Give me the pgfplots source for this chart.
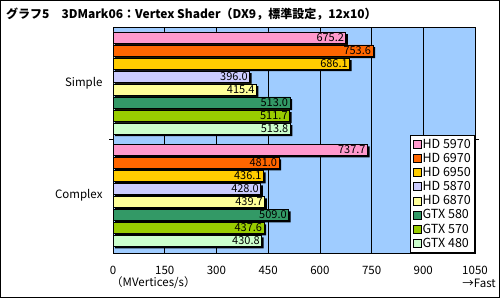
\documentclass[border=0pt]{standalone}
\usepackage{fontspec}
\setmainfont{Noto Sans CJK JP}
\usepackage{pgfplots}
\pgfplotsset{compat=1.18}
\definecolor{bg}{HTML}{9FCCFF}
\definecolor{cA}{HTML}{FF99CC}
\definecolor{cB}{HTML}{FF6600}
\definecolor{cC}{HTML}{FFCC00}
\definecolor{cD}{HTML}{CCCCFF}
\definecolor{cE}{HTML}{FFFF99}
\definecolor{cF}{HTML}{339966}
\definecolor{cG}{HTML}{99CC00}
\definecolor{cH}{HTML}{CCFFCC}
\newcommand{\lf}{\fontsize{11.5bp}{13bp}\selectfont}
\begin{document}
\begin{tikzpicture}[font=\lf]
\begin{axis}[
  at={(113bp,45bp)}, anchor=south west,
  width=362bp, height=225.5bp, scale only axis,
  xmin=0, xmax=1050, ymin=0, ymax=225.5,
  xbar, bar width=11,
  axis background/.style={fill=bg},
  axis line style={black, line width=0.8bp},
  xtick={0,150,...,1050},
  xmajorgrids, major grid style={black, line width=0.6bp},
  ytick={57.75,170}, yticklabels={Complex,Simple},
  major tick length=0pt,
  extra y ticks={114}, extra y tick labels={},
  extra y tick style={major tick length=4bp, tick style={black, line width=0.8bp}, grid=none},
  tick label style={font=\lf},
  /pgf/number format/assume math mode=true,
  /pgf/number format/1000 sep={},
  xticklabel style={yshift=-10bp},
  yticklabel style={xshift=-7bp},
  bars/.style={draw=black, line width=0.6bp, fill=#1,
    preaction={draw=none, fill=black, transform canvas={xshift=2.2bp, yshift=-2.2bp}}},
  nodes near coords={\pgfmathprintnumber[fixed,fixed zerofill,precision=1,assume math mode=true]{\pgfplotspointmeta}},
  every node near coord/.append style={anchor=east, xshift=-0.5bp, font=\fontsize{11bp}{13bp}\selectfont, text=black, inner sep=1bp},
  legend image code/.code={\draw[#1] (0bp,-4bp) rectangle (8bp,4bp);},
  legend cell align=left,
  legend style={at={(1,0)}, anchor=south east, draw=black, line width=0.8bp, fill=white,
    font=\fontsize{12.5bp}{14bp}\selectfont, inner sep=2.5bp, row sep=0.8bp,
    nodes={inner sep=1.3bp}},
]
\addplot[bars=cA, bar shift=45.5, forget plot] coordinates {(675.2,170) (737.7,57.75)};
\addplot[bars=cB, bar shift=32.5, forget plot] coordinates {(753.6,170) (481.0,57.75)};
\addplot[bars=cC, bar shift=19.5, forget plot] coordinates {(686.1,170) (436.1,57.75)};
\addplot[bars=cD, bar shift=6.5, forget plot] coordinates {(396.0,170) (428.0,57.75)};
\addplot[bars=cE, bar shift=-6.5, forget plot] coordinates {(415.4,170) (439.7,57.75)};
\addplot[bars=cF, bar shift=-19.5, forget plot] coordinates {(513.0,170) (509.0,57.75)};
\addplot[bars=cG, bar shift=-32.5, forget plot] coordinates {(511.7,170) (437.6,57.75)};
\addplot[bars=cH, bar shift=-45.5, forget plot] coordinates {(513.8,170) (430.8,57.75)};
\addlegendimage{draw=black, line width=0.6bp, fill=cA}\addlegendentry{HD 5970}
\addlegendimage{draw=black, line width=0.6bp, fill=cB}\addlegendentry{HD 6970}
\addlegendimage{draw=black, line width=0.6bp, fill=cC}\addlegendentry{HD 6950}
\addlegendimage{draw=black, line width=0.6bp, fill=cD}\addlegendentry{HD 5870}
\addlegendimage{draw=black, line width=0.6bp, fill=cE}\addlegendentry{HD 6870}
\addlegendimage{draw=black, line width=0.6bp, fill=cF}\addlegendentry{GTX 580}
\addlegendimage{draw=black, line width=0.6bp, fill=cG}\addlegendentry{GTX 570}
\addlegendimage{draw=black, line width=0.6bp, fill=cH}\addlegendentry{GTX 480}
\end{axis}
\node[anchor=west, font=\fontsize{12bp}{14bp}\selectfont\bfseries, inner sep=0pt] at (6bp,284bp) {グラフ5　3DMark06：Vertex Shader（DX9，標準設定，12x10）};
\node[anchor=west, inner sep=0pt] at (111bp,15bp) {（MVertices/s）};
\node[anchor=east, inner sep=0pt] at (496bp,15bp) {→Fast};
\draw[black, line width=1bp] (0.5bp,0.5bp) rectangle (499.5bp,297.5bp);
\pgfresetboundingbox
\useasboundingbox (0,0) rectangle (500bp,298bp);
\end{tikzpicture}
\end{document}
